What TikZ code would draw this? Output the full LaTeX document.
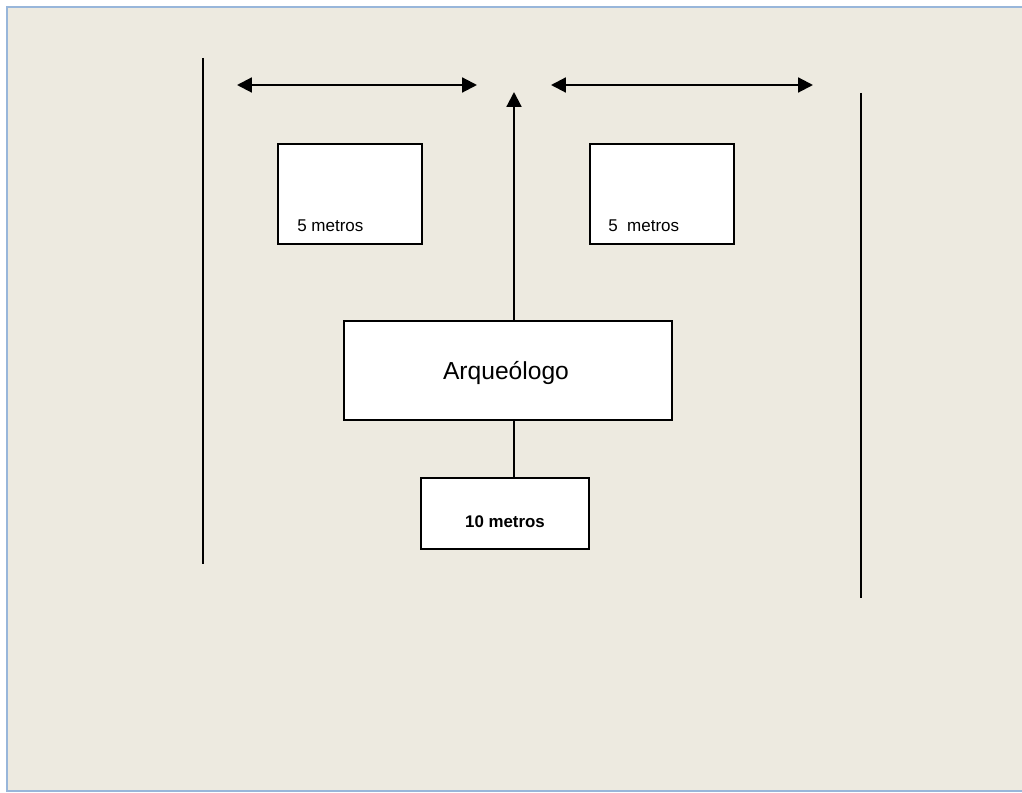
\documentclass[tikz,border=0pt]{standalone}
\usepackage{fontspec}
\setmainfont{Liberation Sans}
\usetikzlibrary{arrows.meta}
\definecolor{paper}{RGB}{237,234,224}
\definecolor{frameblue}{RGB}{152,182,218}

\begin{document}
\begin{tikzpicture}[x=0.025cm, y=-0.025cm,
  box/.style={draw, line width=1.1pt, fill=white, inner sep=0pt, anchor=north west},
  wall/.style={line width=1.3pt},
  tip/.style={-{Triangle[length=10.5pt, width=10.5pt]}, line width=1.5pt},
  twotip/.style={{Triangle[length=10.5pt, width=10.5pt]}-{Triangle[length=10.5pt, width=10.5pt]}, line width=1.5pt}]
  \useasboundingbox (0,0) rectangle (1022,793);
  \fill[white] (0,0) rectangle (1022,793);
  \draw[frameblue, fill=paper, line width=2.1pt] (7,7) rectangle (1030,791);

  % Side walls
  \draw[wall] (203,58) coordinate (wl1) -- (203,564) coordinate (wl2);
  \draw[wall] (861,93) coordinate (wr1) -- (861,598) coordinate (wr2);

  % Width arrows on top
  \coordinate (al) at (237,85);
  \coordinate (ar) at (477,85);
  \coordinate (bl) at (551,85);
  \coordinate (br) at (813,85);
  \draw[twotip] (al) -- (ar);
  \draw[twotip] (bl) -- (br);

  % Boxes of 5 metros
  \node[box, minimum width=144*0.025cm, minimum height=100*0.025cm] (boxl) at (277,143) {};
  \node[anchor=base west, inner sep=0pt, font=\fontsize{12.1}{14}\selectfont] (txtl) at (297,232) {5 metros};
  \node[box, minimum width=144*0.025cm, minimum height=100*0.025cm] (boxr) at (589,143) {};
  \node[anchor=base west, inner sep=0pt, font=\fontsize{12.1}{14}\selectfont] (txtr) at (608,232) {5\ \ metros};

  % Archaeologist and distance below
  \node[box, minimum width=328*0.025cm, minimum height=99*0.025cm] (arq) at (343,320) {};
  \node[font=\fontsize{17.5}{21}\selectfont] (arqtxt) at (506,373) {Arqueólogo};
  \node[box, minimum width=168*0.025cm, minimum height=71*0.025cm] (diez) at (420,477) {};
  \node[font=\bfseries\fontsize{12}{14}\selectfont] (dieztxt) at (505,522) {10 metros};

  \coordinate (top) at (514,92);
  \draw[tip] (arq.north -| top) -- (top);
  \draw[line width=1.3pt] (arq.south -| top) -- (diez.north -| top);
\end{tikzpicture}
\end{document}
